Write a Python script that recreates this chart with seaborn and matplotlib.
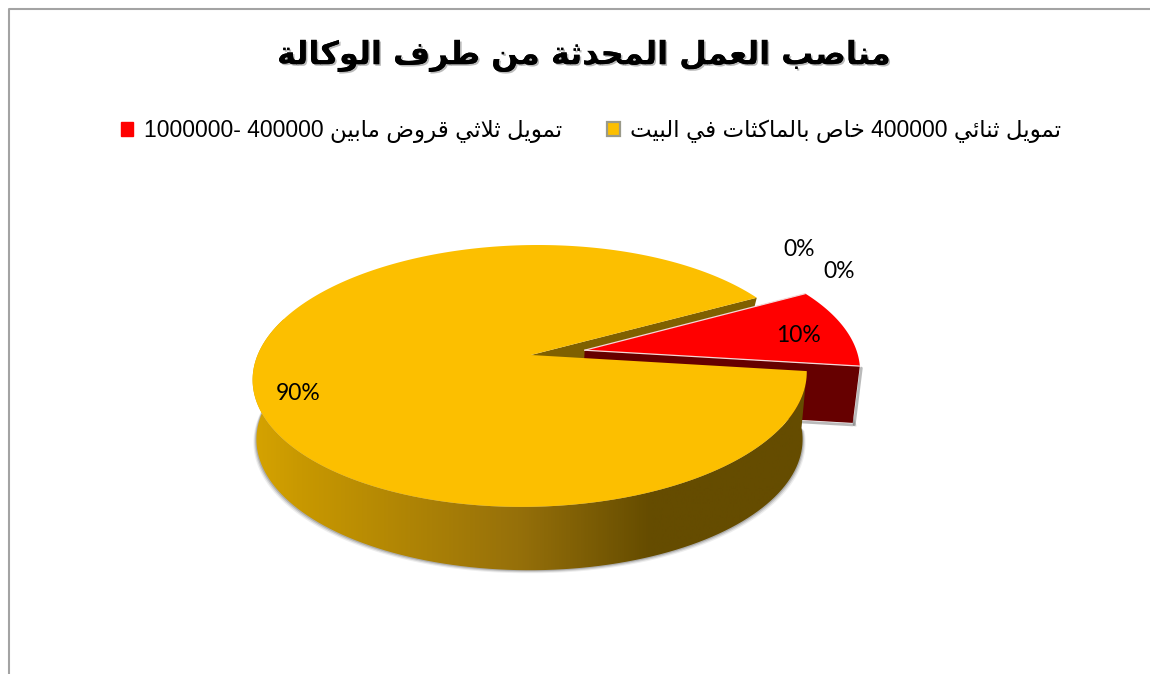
import numpy as np
import matplotlib
matplotlib.use("Agg")
import matplotlib.pyplot as plt
import matplotlib.patheffects as pe
from matplotlib.colors import LinearSegmentedColormap
from matplotlib.patches import Patch, PathPatch, Polygon
from matplotlib.path import Path
import seaborn as sns

# Chart content
title_text = "مناصب العمل المحدثة من طرف الوكالة"
series_labels = ["تمويل ثنائي 400000 خاص بالماكثات في البيت",
                 "تمويل ثلاثي قروض مابين 400000 1000000-",
                 "", ""]
shares = [90, 10, 0, 0]
label_spots = [(298, 393), (798, 336), (839, 271), (799, 249)]

# Colours
yellow_top, yellow_cut = "#FCBF00", "#7F6000"
red_top, red_side = "#FF0000", "#660000"
wall_stops = ["#D6A300", "#C99900", "#96700A", "#654C00", "#654C00"]

# Arabic presentation forms: isolated, final, initial, medial
FORMS = {
    "ا": (0xFE8D, 0xFE8E), "ب": (0xFE8F, 0xFE90, 0xFE91, 0xFE92),
    "ت": (0xFE95, 0xFE96, 0xFE97, 0xFE98), "ث": (0xFE99, 0xFE9A, 0xFE9B, 0xFE9C),
    "ح": (0xFEA1, 0xFEA2, 0xFEA3, 0xFEA4), "خ": (0xFEA5, 0xFEA6, 0xFEA7, 0xFEA8),
    "د": (0xFEA9, 0xFEAA), "ر": (0xFEAD, 0xFEAE),
    "ص": (0xFEB9, 0xFEBA, 0xFEBB, 0xFEBC), "ض": (0xFEBD, 0xFEBE, 0xFEBF, 0xFEC0),
    "ط": (0xFEC1, 0xFEC2, 0xFEC3, 0xFEC4), "ع": (0xFEC9, 0xFECA, 0xFECB, 0xFECC),
    "ف": (0xFED1, 0xFED2, 0xFED3, 0xFED4), "ق": (0xFED5, 0xFED6, 0xFED7, 0xFED8),
    "ك": (0xFED9, 0xFEDA, 0xFEDB, 0xFEDC), "ل": (0xFEDD, 0xFEDE, 0xFEDF, 0xFEE0),
    "م": (0xFEE1, 0xFEE2, 0xFEE3, 0xFEE4), "ن": (0xFEE5, 0xFEE6, 0xFEE7, 0xFEE8),
    "ة": (0xFE93, 0xFE94), "و": (0xFEED, 0xFEEE),
    "ي": (0xFEF1, 0xFEF2, 0xFEF3, 0xFEF4), "ئ": (0xFE89, 0xFE8A, 0xFE8B, 0xFE8C),
}


def shape_word(word):
    """Join the letters of one Arabic word and return them left to right."""
    out = []
    i = 0
    joined = False
    while i < len(word):
        ch = word[i]
        if ch == "ل" and i + 1 < len(word) and word[i + 1] == "ا":
            out.append(chr(0xFEFC if joined else 0xFEFB))
            joined = False
            i += 2
            continue
        forms = FORMS[ch]
        next_ok = i + 1 < len(word) and len(forms) == 4
        if len(forms) == 2:
            out.append(chr(forms[1] if joined else forms[0]))
            joined = False
        else:
            if joined and next_ok:
                out.append(chr(forms[3]))
            elif joined:
                out.append(chr(forms[1]))
            elif next_ok:
                out.append(chr(forms[2]))
            else:
                out.append(chr(forms[0]))
            joined = next_ok
        i += 1
    return "".join(reversed(out))


def visual(text):
    tokens = text.split(" ")
    return " ".join(t if t[0] in "0123456789-" else shape_word(t) for t in reversed(tokens))


# Perspective projection of the pie's unit circle to figure pixels
TOP = dict(cx=531, cy=355, a=127.6, b=273.4, k=0.16, shear=8)
BOTTOM = dict(cx=529.5, cy=412, a=125, b=267, k=0.21, shear=0)


def project(u, v, plane):
    w = 1 + plane["k"] * v
    return np.column_stack([plane["cx"] + (plane["b"] * u + plane["shear"] * v) / w,
                            plane["cy"] - plane["a"] * v / w])


def rim(start, stop, plane, offset=(0.0, 0.0)):
    t = np.radians(np.linspace(start, stop, 240))
    return project(np.cos(t) + offset[0], np.sin(t) + offset[1], plane)


def hub(plane, offset=(0.0, 0.0)):
    return project(np.array([offset[0]]), np.array([offset[1]]), plane)


sns.set_theme(style="white")
plt.rcParams["font.family"] = ["Liberation Sans", "DejaVu Sans"]

fig = plt.figure(figsize=(11.5, 6.74), dpi=100)
ax = fig.add_axes([0, 0, 1, 1])
ax.set_xlim(0, 1150)
ax.set_ylim(674, 0)
ax.axis("off")

# Chart-area frame
ax.plot([8.5, 8.5, 1150], [674, 9, 9], color="#A3A3A3", lw=1.5, zorder=1)

# Slice angles follow from the shares
START = -7.1
sweep = 360 * np.array(shares) / sum(shares)
gap_start, gap_stop = START, START + sweep[1]
mid = np.radians((gap_start + gap_stop) / 2)
EXPLODE = 0.2
shift = (EXPLODE * np.cos(mid), EXPLODE * np.sin(mid))

# Soft shadow under the walls
for grow, alpha in ((3.0, 0.10), (2.0, 0.18), (1.0, 0.28)):
    low = rim(gap_start, gap_start - 190, BOTTOM)
    low = low + np.array([0, grow]) + np.sign(low - [530, 412]) * [grow, 0]
    ax.add_patch(Polygon(low, closed=True, color="#555555", alpha=alpha, lw=0, zorder=2))
    red_low = rim(gap_start, gap_start + 12, BOTTOM, shift)
    ax.plot(red_low[:, 0] + grow, red_low[:, 1] + grow, color="#555555", alpha=alpha, lw=1.5, zorder=2)
red_corner_top = rim(gap_start, gap_start, TOP, shift)[0]
red_corner_low = rim(gap_start, gap_start, BOTTOM, shift)[0]
ax.plot([red_corner_top[0] + 1.5, red_corner_low[0] + 1.5],
        [red_corner_top[1] + 2, red_corner_low[1] + 2], color="#777777", lw=2, alpha=0.5, zorder=2)
ax.plot([hub(BOTTOM, shift)[0, 0], red_corner_low[0]],
        [hub(BOTTOM, shift)[0, 1] + 2, red_corner_low[1] + 2], color="#777777", lw=2, alpha=0.5, zorder=2)

# Cut face of the large slice seen through the gap
face = np.vstack([hub(TOP), rim(gap_stop, gap_stop, TOP), rim(gap_stop, gap_stop, BOTTOM), hub(BOTTOM)])
ax.add_patch(Polygon(face, closed=True, color=yellow_cut, lw=0, zorder=3))

# Pulled-out slice: cut face, outer wall, top
red_face = np.vstack([hub(TOP, shift), rim(gap_start, gap_start, TOP, shift),
                      rim(gap_start, gap_start, BOTTOM, shift), hub(BOTTOM, shift)])
ax.add_patch(Polygon(red_face, closed=True, color=red_side, lw=0, zorder=4))
red_poly = np.vstack([hub(TOP, shift), rim(gap_start, gap_stop, TOP, shift)])
ax.add_patch(Polygon(red_poly, closed=True, facecolor=red_top, edgecolor="none", zorder=5))
for end in (gap_start, gap_stop):
    tip = rim(end, end, TOP, shift)[0]
    base = hub(TOP, shift)[0]
    ax.plot([base[0], tip[0]], [base[1], tip[1]], color="#F4D8D8", lw=0.9, zorder=6)

# Outer wall of the large slice, shaded left to right
wall_poly = np.vstack([rim(gap_start, gap_start - 190, TOP),
                       rim(gap_start - 190, gap_start, BOTTOM)])
wall_cmap = LinearSegmentedColormap.from_list(
    "wall", list(zip([0.0, 0.08, 0.48, 0.72, 1.0], wall_stops)))
shade = ax.imshow(np.linspace(0, 1, 512).reshape(1, -1), cmap=wall_cmap, aspect="auto",
                  extent=(252, 806, 674, 300), zorder=7)
clip = PathPatch(Path(wall_poly), transform=ax.transData, facecolor="none", edgecolor="none")
ax.add_patch(clip)
shade.set_clip_path(clip)
ax.set_xlim(0, 1150)
ax.set_ylim(674, 0)

# Top of the large slice
top_poly = np.vstack([hub(TOP), rim(gap_stop, gap_stop + sweep[0], TOP)])
ax.add_patch(Polygon(top_poly, closed=True, facecolor=yellow_top, edgecolor="none", zorder=8))

# Value labels
for value, (x, y) in zip(shares, label_spots):
    ax.text(x, y, f"{value}%", family="Lato", fontsize=16.5, color="black",
            ha="center", va="center", zorder=10)

# Title with a soft shadow
ax.text(585, 56, visual(title_text), family=["DejaVu Sans"], fontweight="bold", fontsize=23,
        ha="center", va="center", color="black", zorder=10,
        path_effects=[pe.withSimplePatchShadow(offset=(1.2, -1.2), shadow_rgbFace="#777777", alpha=0.5),
                      pe.Normal()])

# Legend, red entry first
handles = [Patch(facecolor=red_top, edgecolor=red_top),
           Patch(facecolor=yellow_top, edgecolor="#9A9A8A", linewidth=1.6)]
texts = [visual(series_labels[1]), visual(series_labels[0])]
ax.legend(handles, texts, ncol=2, frameon=False, fontsize=16.5,
          handlelength=0.55, handleheight=0.55, handletextpad=0.45, columnspacing=2.0,
          loc="center", bbox_to_anchor=(591 / 1150, 1 - 131 / 674), borderpad=0,
          labelcolor="black")

fig.savefig("out.png", dpi=100, facecolor="white")
